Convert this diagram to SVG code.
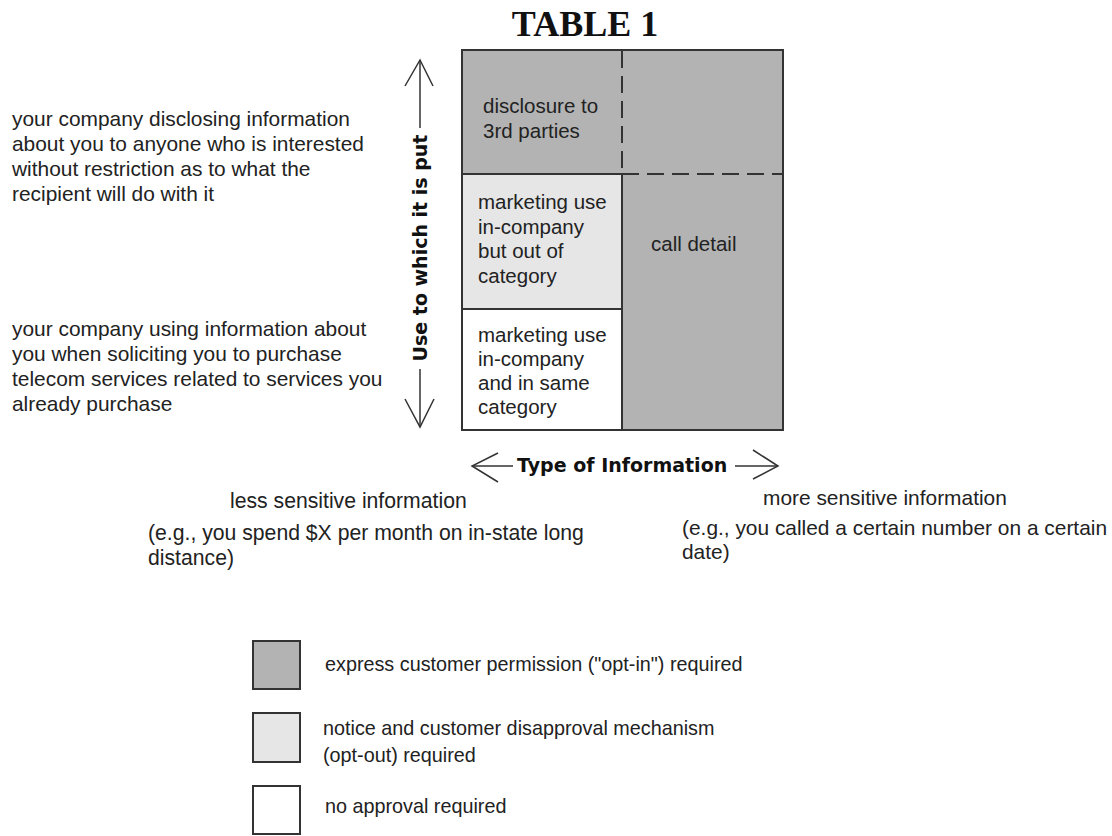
<svg xmlns="http://www.w3.org/2000/svg" width="1112" height="836" viewBox="0 0 1112 836">
  <style>
    .t { font-family: "Liberation Sans", Arial, sans-serif; font-size: 20.5px; fill: #222; }
    .l { font-size: 20.9px; }
    .n { font-size: 21.2px; }
    .r { font-size: 20.9px; }
    .g { font-size: 19.8px; }
    .b { font-family: "DejaVu Sans", Verdana, sans-serif; font-weight: bold; font-size: 19px; fill: #111; }
    .title { font-family: "Liberation Serif", "Times New Roman", serif; font-weight: bold; font-size: 36px; fill: #111; }
    .cell { stroke: #333; stroke-width: 2; }
    .dark { fill: #b3b3b3; }
    .light { fill: #e6e6e6; }
    .white { fill: #ffffff; }
    .dash { stroke: #333; stroke-width: 2; stroke-dasharray: 17 8; fill: none; }
    .ax { stroke: #333; stroke-width: 1.5; fill: none; }
  </style>
  <rect width="1112" height="836" fill="#ffffff"/>

  <text class="title" x="585" y="36" text-anchor="middle">TABLE 1</text>

  <g id="table">
    <g id="cell-disclosure">
      <rect class="dark" x="462" y="50" width="321" height="124"/>
      <text class="t" x="483" y="113">disclosure to</text>
      <text class="t" x="483" y="138">3rd parties</text>
    </g>
    <g id="cell-call-detail">
      <rect class="dark" x="622" y="174" width="161" height="256"/>
      <text class="t" x="651" y="251">call detail</text>
    </g>
    <g id="cell-out-of-category">
      <rect class="light" x="462" y="174" width="160" height="135"/>
      <text class="t" x="478" y="209">marketing use</text>
      <text class="t" x="478" y="234">in-company</text>
      <text class="t" x="478" y="258">but out of</text>
      <text class="t" x="478" y="283">category</text>
    </g>
    <g id="cell-same-category">
      <rect class="white" x="462" y="309" width="160" height="121"/>
      <text class="t" x="478" y="342">marketing use</text>
      <text class="t" x="478" y="366">in-company</text>
      <text class="t" x="478" y="390">and in same</text>
      <text class="t" x="478" y="414">category</text>
    </g>
    <rect x="462" y="50" width="321" height="380" fill="none" class="cell"/>
    <line class="cell" x1="462" y1="174" x2="622" y2="174"/>
    <line class="cell" x1="462" y1="309" x2="622" y2="309"/>
    <line class="cell" x1="622" y1="174" x2="622" y2="430"/>
    <line class="dash" x1="622" y1="51" x2="622" y2="174"/>
    <line class="dash" x1="622" y1="174" x2="782" y2="174"/>
  </g>

  <g id="connectors">
    <!-- vertical axis -->
    <polyline class="ax" points="405,86 420,60 433,86"/>
    <line class="ax" x1="420" y1="60" x2="420" y2="128"/>
    <line class="ax" x1="420" y1="369" x2="420" y2="427"/>
    <polyline class="ax" points="405,399 420,427 434,399"/>
    <!-- horizontal axis -->
    <polyline class="ax" points="498,453 472,466 498,482"/>
    <line class="ax" x1="472" y1="466" x2="513" y2="466"/>
    <line class="ax" x1="735" y1="466" x2="778" y2="466"/>
    <polyline class="ax" points="753,450 778,466 753,479"/>
  </g>

  <g id="axis-labels">
    <text class="b" transform="translate(427,248) rotate(-90)" text-anchor="middle">Use to which it is put</text>
    <text class="b" x="517" y="472">Type of Information</text>
  </g>

  <g id="left-notes">
    <text class="t l" x="12" y="126">your company disclosing information</text>
    <text class="t l" x="12" y="151">about you to anyone who is interested</text>
    <text class="t l" x="12" y="176">without restriction as to what the</text>
    <text class="t l" x="12" y="201">recipient will do with it</text>
    <text class="t l" x="12" y="336">your company using information about</text>
    <text class="t l" x="12" y="361">you when soliciting you to purchase</text>
    <text class="t l" x="12" y="386">telecom services related to services you</text>
    <text class="t l" x="12" y="411">already purchase</text>
  </g>

  <g id="bottom-notes">
    <text class="t n" x="230" y="508">less sensitive information</text>
    <text class="t n" x="148" y="540">(e.g., you spend $X per month on in-state long</text>
    <text class="t n" x="148" y="565">distance)</text>
    <text class="t r" x="763" y="505">more sensitive information</text>
    <text class="t r" x="682" y="535">(e.g., you called a certain number on a certain</text>
    <text class="t r" x="682" y="559">date)</text>
  </g>

  <g id="legend">
    <g id="legend-optin">
      <rect class="dark cell" x="253" y="641" width="47" height="48"/>
      <text class="t g" x="325" y="671">express customer permission ("opt-in") required</text>
    </g>
    <g id="legend-optout">
      <rect class="light cell" x="253" y="713" width="47" height="49"/>
      <text class="t g" x="323" y="735">notice and customer disapproval mechanism</text>
      <text class="t g" x="323" y="762">(opt-out) required</text>
    </g>
    <g id="legend-none">
      <rect class="white cell" x="253" y="786" width="47" height="48"/>
      <text class="t g" x="325" y="813">no approval required</text>
    </g>
  </g>
</svg>
